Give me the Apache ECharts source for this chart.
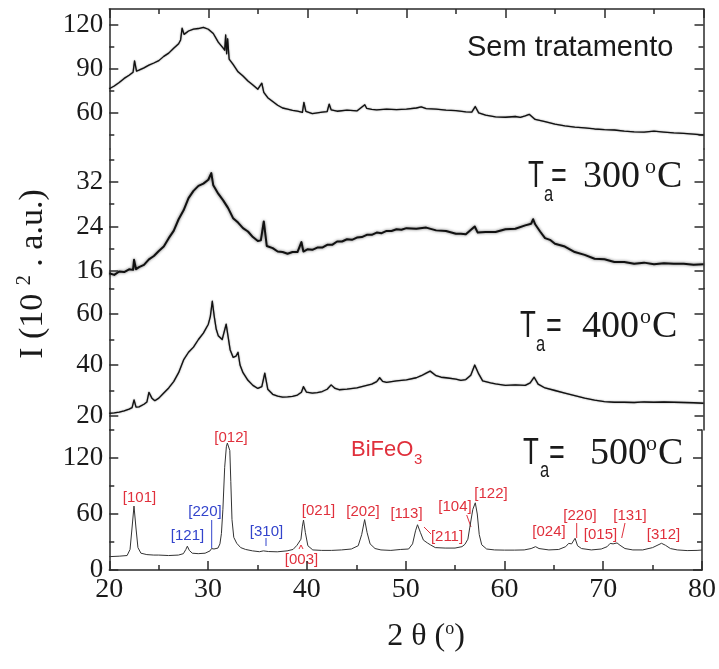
<!DOCTYPE html>
<html>
<head>
<meta charset="utf-8">
<script src="https://cdn.jsdelivr.net/npm/echarts@6/dist/echarts.min.js"></script>
<style>
  html, body { margin: 0; padding: 0; background: #fff; }
  #chart { width: 719px; height: 669px; }
</style>
</head>
<body>
<div id="chart"></div>
<script>
// X-ray diffraction patterns of BiFeO3 powders, stacked by annealing temperature.

const thetaTicks = [20, 30, 40, 50, 60, 70, 80];
const thetaMinorTicks = [25, 35, 45, 55, 65, 75];

// As-prepared sample (no heat treatment)
const semTratamento = [
  [20,76.5],[20.5,78.4],[21,80.8],[21.5,83.6],[22,85.7],[22.4,87.8],[22.55,95.5],[22.75,88.6],[23,89.2],[23.5,90.8],
  [24,92.6],[24.5,94.1],[25,95.7],[25.5,98.6],[26,100.8],[26.5,104.1],[27,107.2],[27.2,109.8],[27.35,117.8],[27.55,113.6],
  [28,115.9],[28.5,117.2],[29,117.6],[29.5,118.4],[30,117.1],[30.5,114.2],[31,108.3],[31.5,104.2],[31.65,102.8],[31.75,113.2],
  [31.85,100.4],[31.95,110.6],[32.1,96.8],[32.5,93.2],[33,88.1],[33.5,85.2],[34,81.8],[34.5,79.1],[35,76.2],[35.4,80.3],
  [35.6,74.1],[36,70.4],[36.5,67.8],[37,65.3],[37.5,63.4],[38,62.6],[38.5,61.8],[39,61.2],[39.5,60.4],[39.65,67.2],
  [39.85,61.1],[40.5,59.6],[41,60.1],[41.5,60.6],[42,61.0],[42.2,66.1],[42.4,62.2],[43,61.2],[44,61.9],[45,61.4],
  [45.8,65.6],[46,63.1],[46.5,62.4],[47,62.1],[48,62.6],[49,62.3],[50,62.7],[51,63.4],[51.5,64.1],[52,63.0],
  [53,62.6],[54,61.9],[55,61.6],[56,60.8],[56.6,60.6],[56.95,64.4],[57.3,60.1],[58,58.6],[59,57.4],[60,57.1],
  [61,57.6],[61.5,57.0],[62,58.1],[62.4,59.1],[63,55.6],[64,54.1],[65,52.4],[66,51.2],[67,50.4],[68,49.9],
  [69,49.1],[70,48.6],[71,48.4],[72,47.6],[73,47.1],[74,46.9],[75,47.6],[76,47.0],[77,46.4],[78,46.1],
  [79,45.6],[80,45.0]
];

// Annealed at 300 °C
const ta300 = [
  [20,15.6],[20.5,15.3],[21,15.9],[21.5,15.8],[22,16.3],[22.4,16.2],[22.5,18.0],[22.7,16.3],[23,16.7],[23.5,17.1],
  [24,18.1],[24.5,18.7],[25,19.6],[25.5,20.4],[26,21.9],[26.5,23.2],[27,25.3],[27.5,26.9],[28,29.1],[28.5,30.4],
  [29,31.3],[29.5,31.7],[30,32.4],[30.3,33.6],[30.5,31.4],[31,29.9],[31.5,28.7],[32,27.3],[32.5,25.5],[33,24.7],
  [33.5,23.7],[34,23.1],[34.5,22.1],[35,21.4],[35.3,21.5],[35.6,24.9],[35.9,20.5],[36.5,20.1],[37,19.5],[37.5,19.4],
  [38,19.1],[38.5,19.4],[39,19.4],[39.4,21.2],[39.6,19.5],[40,19.9],[40.5,19.8],[41,20.2],[41.5,20.2],[42,20.7],
  [42.5,20.7],[43,21.3],[43.5,21.3],[44,21.7],[44.5,21.6],[45,22.0],[45.5,22.1],[46,22.5],[46.5,22.5],[47,22.9],
  [47.5,22.8],[48,23.2],[48.5,23.2],[49,23.5],[49.5,23.4],[50,23.7],[51,23.6],[52,23.8],[53,23.3],[54,23.2],
  [55,22.7],[55.5,22.7],[56,22.6],[56.9,24.0],[57.2,22.9],[58,23.0],[59,23.0],[60,23.5],[61,23.6],[62,24.2],
  [62.6,24.5],[62.8,25.3],[63,24.4],[63.5,23.1],[64,21.9],[64.5,21.6],[65,20.9],[66,20.4],[67,19.4],[68,18.9],
  [69,18.2],[70,18.1],[71,17.6],[72,17.6],[73,17.3],[74,17.5],[75,17.2],[76,17.4],[77,17.3],[78,17.3],
  [79,17.1],[80,17.2]
];

// Annealed at 400 °C
const ta400 = [
  [20,21.0],[20.5,21.2],[21,21.5],[21.5,22.0],[22,22.7],[22.3,23.3],[22.5,26.3],[22.7,23.5],[23,23.6],[23.5,24.6],
  [23.8,25.5],[24,29.3],[24.3,27.0],[24.6,26.0],[25,27.0],[25.5,29.0],[26,31.0],[26.5,33.5],[27,37.0],[27.5,42.0],
  [28,45.0],[28.5,47.0],[29,50.0],[29.5,52.5],[30,56.0],[30.2,59.0],[30.4,65.0],[30.6,59.0],[30.8,54.0],[31,51.5],
  [31.4,50.0],[31.6,49.5],[31.8,56.0],[32,51.0],[32.2,46.0],[32.5,43.0],[32.8,43.5],[33,45.0],[33.2,40.0],[33.5,37.0],
  [34,34.0],[34.5,32.0],[35,30.8],[35.4,31.5],[35.7,36.8],[36,30.5],[36.5,28.5],[37,27.8],[37.5,27.4],[38,27.5],
  [38.5,27.7],[39,28.2],[39.4,29.3],[39.6,31.5],[39.9,29.4],[40.5,29.0],[41,29.2],[41.5,29.6],[42,30.5],[42.4,32.2],
  [42.8,30.8],[43.2,30.3],[44,30.5],[45,31.0],[45.5,31.5],[46,32.0],[46.5,32.5],[47,33.5],[47.3,35.0],[47.6,33.6],
  [48,33.2],[49,33.8],[50,34.2],[51,35.0],[51.5,35.8],[52,36.8],[52.4,37.6],[53,35.8],[53.5,35.2],[54,35.0],
  [55,34.5],[55.5,34.0],[56,34.3],[56.5,36.0],[56.9,40.0],[57.3,36.5],[57.7,33.8],[58.5,33.0],[59,32.6],[60,32.0],
  [61,32.2],[62,32.0],[62.5,33.0],[62.9,35.2],[63.3,32.5],[64,31.0],[65,30.0],[66,29.0],[67,28.0],[68,27.0],
  [69,26.2],[70,25.6],[71,25.4],[72,25.4],[73,25.3],[74,25.5],[75,25.4],[76,25.5],[77,25.4],[78,25.3],
  [79,25.2],[80,25.0]
];

// Annealed at 500 °C: crystalline BiFeO3
const ta500 = [
  [20,14.3],[21,14.8],[21.8,15.5],[22.1,22],[22.3,45],[22.5,68.5],[22.7,45],[22.9,24],[23.2,18],[23.8,16.5],
  [24.5,16],[25,16],[26,15.5],[27,16],[27.5,17.5],[27.75,22],[27.9,25.5],[28.1,21],[28.4,18],[29,17.5],
  [29.7,18],[30.2,20.5],[30.35,23],[30.6,22.5],[31,23.5],[31.2,28],[31.35,39],[31.5,65],[31.68,110],[31.85,132],
  [31.95,136],[32.1,135],[32.2,128],[32.3,95],[32.42,54],[32.6,35],[32.9,28.6],[33.3,24],[33.8,22],[34.5,20.5],
  [35.2,19.6],[35.6,20.5],[35.8,22],[36.1,19.8],[37,19.5],[38,20.5],[38.6,22],[39,26.5],[39.2,28],[39.4,33],
  [39.55,47],[39.66,53.5],[39.85,40],[40.1,26],[40.6,21.5],[41.5,21],[42.5,21],[43.5,21.5],[44.5,22.5],[45.2,26],
  [45.55,38],[45.85,54],[46.1,40],[46.4,28],[46.9,23],[47.5,21.5],[48.5,21],[49.5,22],[50.3,22.5],[50.7,28],
  [51.0,42],[51.2,48.5],[51.5,40],[51.8,32],[52.2,29],[52.5,27],[53,24],[54,23.5],[55,23.5],[55.7,25],
  [56,27.5],[56.3,33],[56.5,46],[56.8,65],[57.05,72],[57.25,60],[57.45,38],[57.7,27],[58.2,22.5],[59,21.5],
  [60,21.3],[61,21.3],[62,21.5],[62.7,23],[63.15,25],[63.5,23],[64.5,21.5],[65.5,22],[66.2,25],[66.5,28.5],
  [66.8,28],[67.15,34],[67.4,26],[67.8,23],[68.8,21.5],[69.8,22.5],[70.4,25],[70.7,28.5],[71,28],[71.4,29],
  [71.7,26.5],[72.2,23],[73,21.5],[74,21.5],[75,24],[75.9,28.6],[76.3,26.5],[76.8,23],[77.5,21.5],[78.5,20.8],
  [79.5,21],[80,21.4]
];

// Tick values of each stacked panel (top to bottom)
const majorTicks = [[60, 90, 120], [16, 24, 32], [20, 40, 60], [0, 60, 120]];
const minorTicks = [[45, 75, 105], [12, 20, 28, 36], [30, 50, 70], [30, 90, 150]];

// Miller indices of the indexed reflections
const reflections = ['[101]', '[121]', '[220]', '[012]', '[310]', '[003]', '[021]', '[202]', '[113]',
                     '[211]', '[104]', '[122]', '[024]', '[220]', '[015]', '[131]', '[312]'];

const SERIF = 'Liberation Serif';
const SANS = 'Liberation Sans';
const INK = '#1a1a1a';
const FRAME = '#2a2a2a';
const RED = '#e0303c';
const BLUE = '#3344cc';

const panels = [semTratamento, ta300, ta400, ta500];
const GRID_LEFT = 109.3, GRID_RIGHT = 15.5;
const PLOT_W = 719 - GRID_LEFT - GRID_RIGHT;
const panelTop = [9, 149, 288.5, 430];
const panelHeight = [140, 139.5, 141.5, 140];
const panelRange = [[35.45, 130.9], [12.85, 37.93], [14.51, 70], [0, 150]];
const lineWidths = [1.3, 2.0, 1.3, 1.0];
const lineBlur = [1.5, 3, 1.5, 0];
const lineColors = ['#111', '#111', '#111', '#333'];
const MAJOR_LEN = 9, MINOR_LEN = 5;

const frameLine = { color: FRAME, width: 1.5 };

const grid = panels.map((_, i) => ({
  left: GRID_LEFT, right: GRID_RIGHT, top: panelTop[i], height: panelHeight[i]
}));

const xAxis = panels.map((_, i) => {
  const bottom = i === 3;
  return {
    gridIndex: i, type: 'value', min: 20, max: 80, interval: 10,
    show: bottom,
    axisLine: { show: bottom, onZero: false, lineStyle: frameLine },
    axisTick: { show: false },
    splitLine: { show: false },
    axisLabel: { show: bottom, fontFamily: SERIF, fontSize: 28, color: INK, margin: 6, customValues: thetaTicks }
  };
});
// top edge of the frame
xAxis.push({
  gridIndex: 0, type: 'value', min: 20, max: 80, interval: 10, position: 'top',
  axisLine: { show: true, onZero: false, lineStyle: frameLine },
  axisTick: { show: false },
  splitLine: { show: false },
  axisLabel: { show: false }
});

const yAxis = [];
panels.forEach((_, i) => {
  const [min, max] = panelRange[i];
  ['left', 'right'].forEach(side => {
    yAxis.push({
      gridIndex: i, type: 'value', min, max, position: side,
      splitLine: { show: false },
      axisLine: { show: true, onZero: false, lineStyle: frameLine },
      axisTick: { show: false },
      axisLabel: side === 'left'
        ? { show: true, customValues: majorTicks[i], fontFamily: SERIF, fontSize: 27, color: INK, margin: 6 }
        : { show: false }
    });
  });
});

// Inward tick marks as short segments in each panel's data space.
function tickSegments(i) {
  const [min, max] = panelRange[i];
  const xPerPx = 60 / PLOT_W;
  const yPerPx = (max - min) / panelHeight[i];
  const segs = [];
  const yVals = majorTicks[i].map(v => [v, MAJOR_LEN]).concat(minorTicks[i].map(v => [v, MINOR_LEN]));
  yVals.forEach(([v, len]) => {
    segs.push([{ coord: [20, v] }, { coord: [20 + len * xPerPx, v] }]);
    segs.push([{ coord: [80 - len * xPerPx, v] }, { coord: [80, v] }]);
  });
  const xVals = thetaTicks.map(t => [t, MAJOR_LEN]).concat(thetaMinorTicks.map(t => [t, MINOR_LEN]));
  if (i === 3) {
    xVals.forEach(([t, len]) => segs.push([{ coord: [t, min] }, { coord: [t, min + len * yPerPx] }]));
  }
  if (i === 0) {
    xVals.forEach(([t, len]) => segs.push([{ coord: [t, max] }, { coord: [t, max - len * yPerPx] }]));
  }
  return segs;
}

const series = panels.map((data, i) => ({
  type: 'line',
  xAxisIndex: i,
  yAxisIndex: i * 2,
  data,
  symbol: 'none',
  silent: true,
  clip: false,
  lineStyle: {
    color: lineColors[i], width: lineWidths[i], join: 'round',
    shadowColor: 'rgba(0,0,0,0.6)', shadowBlur: lineBlur[i]
  },
  markLine: {
    silent: true,
    symbol: ['none', 'none'],
    label: { show: false },
    emphasis: { disabled: true },
    lineStyle: { color: FRAME, width: 1.5, type: 'solid', shadowBlur: 0 },
    animation: false,
    data: tickSegments(i)
  }
}));

// text placed by its left edge and baseline
function txt(x, y, text, size, family, color, opts) {
  opts = opts || {};
  return {
    type: 'text', x, y: y - 0.35 * size, silent: true,
    scaleX: opts.scaleX || 1,
    style: {
      text, x: 0, y: 0, fill: color || INK,
      fontSize: size, fontFamily: family,
      textAlign: opts.align || 'left', textVerticalAlign: 'middle'
    }
  };
}

// annealing temperature label: T_a = NNN °C
function tempLabel(p, value) {
  return [
    txt(p[0], p[1], 'T', 36, SANS, INK, { scaleX: 0.72 }),
    txt(p[2], p[3], 'a', 22, SANS, INK, { scaleX: 0.75 }),
    txt(p[4], p[1], '=', 36, SANS, INK, { scaleX: 0.75 }),
    txt(p[5], p[1], value, 38, SERIF, INK),
    txt(p[6], p[1] - 15, 'o', 22, SERIF, INK),
    txt(p[7], p[1], 'C', 38, SERIF, INK)
  ];
}

const labelAt = [
  [139.5, 498, RED], [187.5, 536, BLUE], [205, 512, BLUE], [231, 437.5, RED], [266.5, 531.5, BLUE],
  [301.5, 560, RED], [318.5, 511, RED], [363, 512, RED], [406.5, 513.5, RED], [447, 536.5, RED],
  [455, 506.5, RED], [491, 494, RED], [549, 531.5, RED], [580, 516, RED], [600.5, 535, RED],
  [630, 516, RED], [663.5, 535, RED]
];

const graphic = [];
graphic.push(txt(467, 58, 'Sem tratamento', 29, SANS, INK));
graphic.push(...tempLabel([528, 190, 544, 203, 551, 583, 645, 657], '300'));
graphic.push(...tempLabel([520, 340, 536, 353, 546, 582, 640, 652], '400'));
graphic.push(...tempLabel([523, 467, 540, 479, 549, 590, 646, 658], '500'));

graphic.push(txt(351, 458, 'BiFeO', 22, SANS, RED));
graphic.push(txt(414, 465, '3', 15, SANS, RED));

reflections.forEach((r, k) => {
  const [cx, cy, col] = labelAt[k];
  graphic.push({
    type: 'text', x: cx, y: cy, silent: true,
    style: { text: r, fill: col, fontSize: 15, fontFamily: SANS, textAlign: 'center', textVerticalAlign: 'middle' }
  });
});

// leader lines from indices to their reflections
const leaders = [
  [[211.7, 520], [211.7, 548], BLUE],
  [[266, 538], [266, 546], BLUE],
  [[424, 527], [431, 534], RED],
  [[466.7, 515], [471, 527], RED],
  [[576.7, 523], [576.7, 538], RED],
  [[625, 523], [621.7, 538], RED]
];
leaders.forEach(([a, b, col]) => {
  graphic.push({
    type: 'line', silent: true,
    shape: { x1: a[0], y1: a[1], x2: b[0], y2: b[1] },
    style: { stroke: col, lineWidth: 1 }
  });
});
graphic.push({
  type: 'polyline', silent: true,
  shape: { points: [[299, 549], [301, 545], [303, 549]] },
  style: { stroke: RED, lineWidth: 1, fill: null }
});

// axis titles
graphic.push({
  type: 'text', x: 33, y: 274, rotation: Math.PI / 2, silent: true,
  style: {
    text: '{m|I (10 }{s|2}{m| . a.u.)}',
    x: 0, y: 0, textAlign: 'center', textVerticalAlign: 'middle', fill: INK,
    rich: {
      m: { fontSize: 34, fontFamily: SERIF, fill: INK, lineHeight: 36 },
      s: { fontSize: 20, fontFamily: SERIF, fill: INK, verticalAlign: 'top', lineHeight: 36 }
    }
  }
});
graphic.push({
  type: 'text', x: 426, y: 637, silent: true,
  style: {
    text: '{m|2 θ (}{s|o}{m|)}',
    x: 0, y: 0, textAlign: 'center', textVerticalAlign: 'middle', fill: INK,
    rich: {
      m: { fontSize: 32, fontFamily: SERIF, fill: INK, lineHeight: 34 },
      s: { fontSize: 18, fontFamily: SERIF, fill: INK, verticalAlign: 'top', lineHeight: 34 }
    }
  }
});

const chart = echarts.init(document.getElementById('chart'), null, { renderer: 'canvas' });
chart.setOption({
  animation: false,
  backgroundColor: '#fff',
  grid, xAxis, yAxis, series, graphic
});
</script>
</body>
</html>
